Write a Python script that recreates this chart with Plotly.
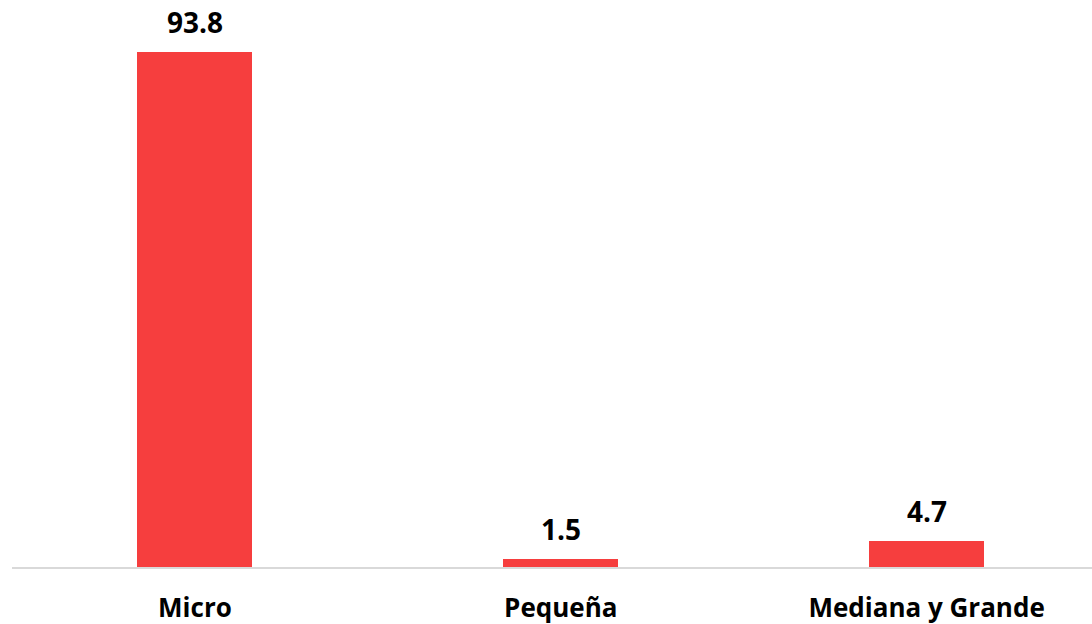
import plotly.graph_objects as go

categories = ["Micro", "Pequeña", "Mediana y Grande"]
values = [93.8, 1.5, 4.7]
labels = ["93.8", "1.5", "4.7"]

bar_color = "#F63E3E"
font_family = "'Open Sans', 'Noto Sans', sans-serif"

fig = go.Figure()
fig.add_trace(go.Bar(
    x=categories, y=values, width=0.314,
    marker=dict(color=bar_color, line=dict(width=0)),
    hoverinfo="skip",
))

for c, v, t in zip(categories, values, labels):
    fig.add_annotation(x=c, y=v, text="<b>%s</b>" % t, showarrow=False,
                       yanchor="bottom", yshift=9,
                       font=dict(family=font_family, size=28, color="#000000"))

fig.update_layout(
    width=1092, height=624,
    margin=dict(l=12, r=0, t=0, b=57),
    paper_bgcolor="white", plot_bgcolor="white",
    showlegend=False,
    bargap=0,
    xaxis=dict(
        type="category", range=[-0.5, 2.452],
        showline=True, linecolor="#D9D9D9", linewidth=2,
        showgrid=False, zeroline=False, ticks="",
        tickfont=dict(family=font_family, size=26, color="#000000"),
        ticklabelstandoff=17,
        automargin=False,
        tickvals=categories,
        ticktext=["<b>%s</b>" % c for c in categories],
    ),
    yaxis=dict(range=[0, 103.27], visible=False, showgrid=False, zeroline=False,
               automargin=False),
)

fig.write_html("out.html", config={"displayModeBar": False})

with open("out.html", "r", encoding="utf-8") as f:
    html = f.read()
html = html.replace("<head>", "<head><style>html,body{margin:0;padding:0;overflow:hidden;}</style>", 1)
with open("out.html", "w", encoding="utf-8") as f:
    f.write(html)
